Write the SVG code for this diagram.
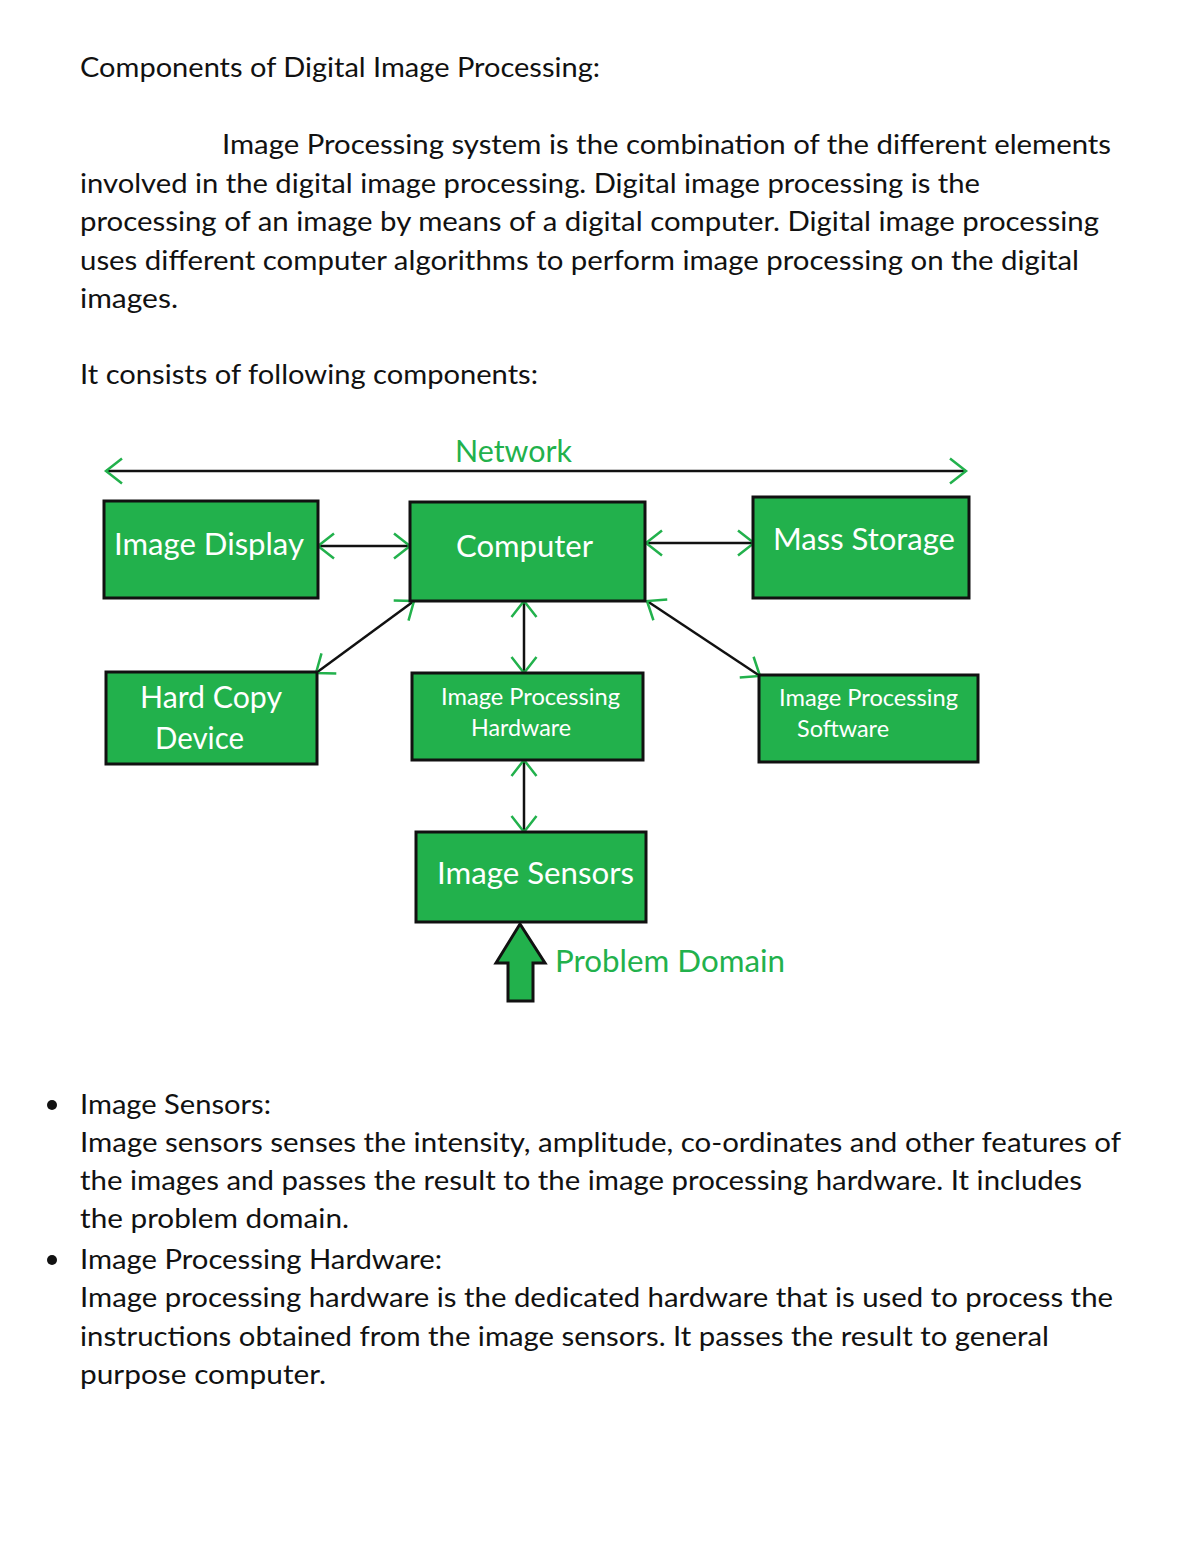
<svg xmlns="http://www.w3.org/2000/svg" width="1200" height="1553" viewBox="0 0 1200 1553">
<style>
.body{font-family:Lato,"Open Sans","Liberation Sans",sans-serif;font-size:27px;fill:#111}
.green{font-family:Lato,"Open Sans","Liberation Sans",sans-serif;font-size:30px;fill:#22b14c}
.box{fill:#22b14c;stroke:#111;stroke-width:3}
.lbl{font-family:Lato,"Open Sans","Liberation Sans",sans-serif;font-size:30px;fill:#fff}
.lbls{font-family:Lato,"Open Sans","Liberation Sans",sans-serif;font-size:23px;fill:#fff}
.conn{stroke:#111;stroke-width:2.5;fill:none;marker-start:url(#chev);marker-end:url(#chev)}
</style>
<defs>
<marker id="chev" markerUnits="userSpaceOnUse" viewBox="-20 -15 24 30" markerWidth="24" markerHeight="30" refX="0" refY="0" orient="auto-start-reverse" overflow="visible">
<path d="M-16,-12.5 L0,0 L-16,12.5" fill="none" stroke="#22b14c" stroke-width="2.5"/>
</marker>
</defs>
<rect width="1200" height="1553" fill="#fff"/>
<g id="text-top">
<text class="body" x="80" y="77" textLength="520" lengthAdjust="spacingAndGlyphs">Components of Digital Image Processing:</text>
<text class="body" x="222" y="154" textLength="889" lengthAdjust="spacingAndGlyphs">Image Processing system is the combination of the different elements</text>
<text class="body" x="80" y="193" textLength="900" lengthAdjust="spacingAndGlyphs">involved in the digital image processing. Digital image processing is the</text>
<text class="body" x="80" y="231" textLength="1019" lengthAdjust="spacingAndGlyphs">processing of an image by means of a digital computer. Digital image processing</text>
<text class="body" x="80" y="270" textLength="999" lengthAdjust="spacingAndGlyphs">uses different computer algorithms to perform image processing on the digital</text>
<text class="body" x="80" y="308" textLength="98" lengthAdjust="spacingAndGlyphs">images.</text>
<text class="body" x="80" y="384" textLength="458" lengthAdjust="spacingAndGlyphs">It consists of following components:</text>
</g>
<g id="connectors">
<line class="conn" x1="106" y1="471" x2="966" y2="471"/>
<line class="conn" x1="318" y1="546" x2="410" y2="546"/>
<line class="conn" x1="646" y1="543" x2="754" y2="543"/>
<line class="conn" x1="414" y1="601" x2="316" y2="673"/>
<line class="conn" x1="524" y1="601" x2="524" y2="673"/>
<line class="conn" x1="647" y1="601" x2="760" y2="676"/>
<line class="conn" x1="524" y1="760" x2="524" y2="832"/>
</g>
<g id="network-label"><text class="green" x="455" y="462" textLength="117" lengthAdjust="spacingAndGlyphs">Network</text></g>
<g id="image-display"><rect class="box" x="104" y="501" width="214" height="97"/><text class="lbl" x="114" y="555" textLength="190" lengthAdjust="spacingAndGlyphs">Image Display</text></g>
<g id="computer"><rect class="box" x="410" y="502" width="235" height="99"/><text class="lbl" x="456" y="557" textLength="137" lengthAdjust="spacingAndGlyphs">Computer</text></g>
<g id="mass-storage"><rect class="box" x="753" y="497" width="216" height="101"/><text class="lbl" x="773" y="550" textLength="182" lengthAdjust="spacingAndGlyphs">Mass Storage</text></g>
<g id="hard-copy"><rect class="box" x="106" y="672" width="211" height="92"/><text class="lbl" x="140" y="708" textLength="142" lengthAdjust="spacingAndGlyphs">Hard Copy</text><text class="lbl" x="155" y="749" textLength="89" lengthAdjust="spacingAndGlyphs">Device</text></g>
<g id="ip-hardware"><rect class="box" x="412" y="673" width="231" height="87"/><text class="lbls" x="441" y="705" textLength="179" lengthAdjust="spacingAndGlyphs">Image Processing</text><text class="lbls" x="471" y="736" textLength="100" lengthAdjust="spacingAndGlyphs">Hardware</text></g>
<g id="ip-software"><rect class="box" x="759" y="675" width="219" height="87"/><text class="lbls" x="779" y="706" textLength="179" lengthAdjust="spacingAndGlyphs">Image Processing</text><text class="lbls" x="797" y="737" textLength="92" lengthAdjust="spacingAndGlyphs">Software</text></g>
<g id="image-sensors"><rect class="box" x="416" y="832" width="230" height="90"/><text class="lbl" x="437" y="884" textLength="197" lengthAdjust="spacingAndGlyphs">Image Sensors</text></g>
<g id="problem-domain">
<path d="M520,924 L545,963 L533,963 L533,1001 L508,1001 L508,963 L496,963 Z" fill="#22b14c" stroke="#111" stroke-width="3" stroke-linejoin="miter"/>
<text class="green" x="555" y="972" textLength="230" lengthAdjust="spacingAndGlyphs">Problem Domain</text>
</g>
<g id="text-bottom">
<circle cx="52" cy="1105" r="5" fill="#111"/>
<text class="body" x="80" y="1114" textLength="191" lengthAdjust="spacingAndGlyphs">Image Sensors:</text>
<text class="body" x="80" y="1152" textLength="1041" lengthAdjust="spacingAndGlyphs">Image sensors senses the intensity, amplitude, co-ordinates and other features of</text>
<text class="body" x="80" y="1190" textLength="1002" lengthAdjust="spacingAndGlyphs">the images and passes the result to the image processing hardware. It includes</text>
<text class="body" x="80" y="1228" textLength="269" lengthAdjust="spacingAndGlyphs">the problem domain.</text>
<circle cx="52" cy="1260" r="5" fill="#111"/>
<text class="body" x="80" y="1269" textLength="362" lengthAdjust="spacingAndGlyphs">Image Processing Hardware:</text>
<text class="body" x="80" y="1307" textLength="1033" lengthAdjust="spacingAndGlyphs">Image processing hardware is the dedicated hardware that is used to process the</text>
<text class="body" x="80" y="1346" textLength="969" lengthAdjust="spacingAndGlyphs">instructions obtained from the image sensors. It passes the result to general</text>
<text class="body" x="80" y="1384" textLength="246" lengthAdjust="spacingAndGlyphs">purpose computer.</text>
</g>
</svg>
